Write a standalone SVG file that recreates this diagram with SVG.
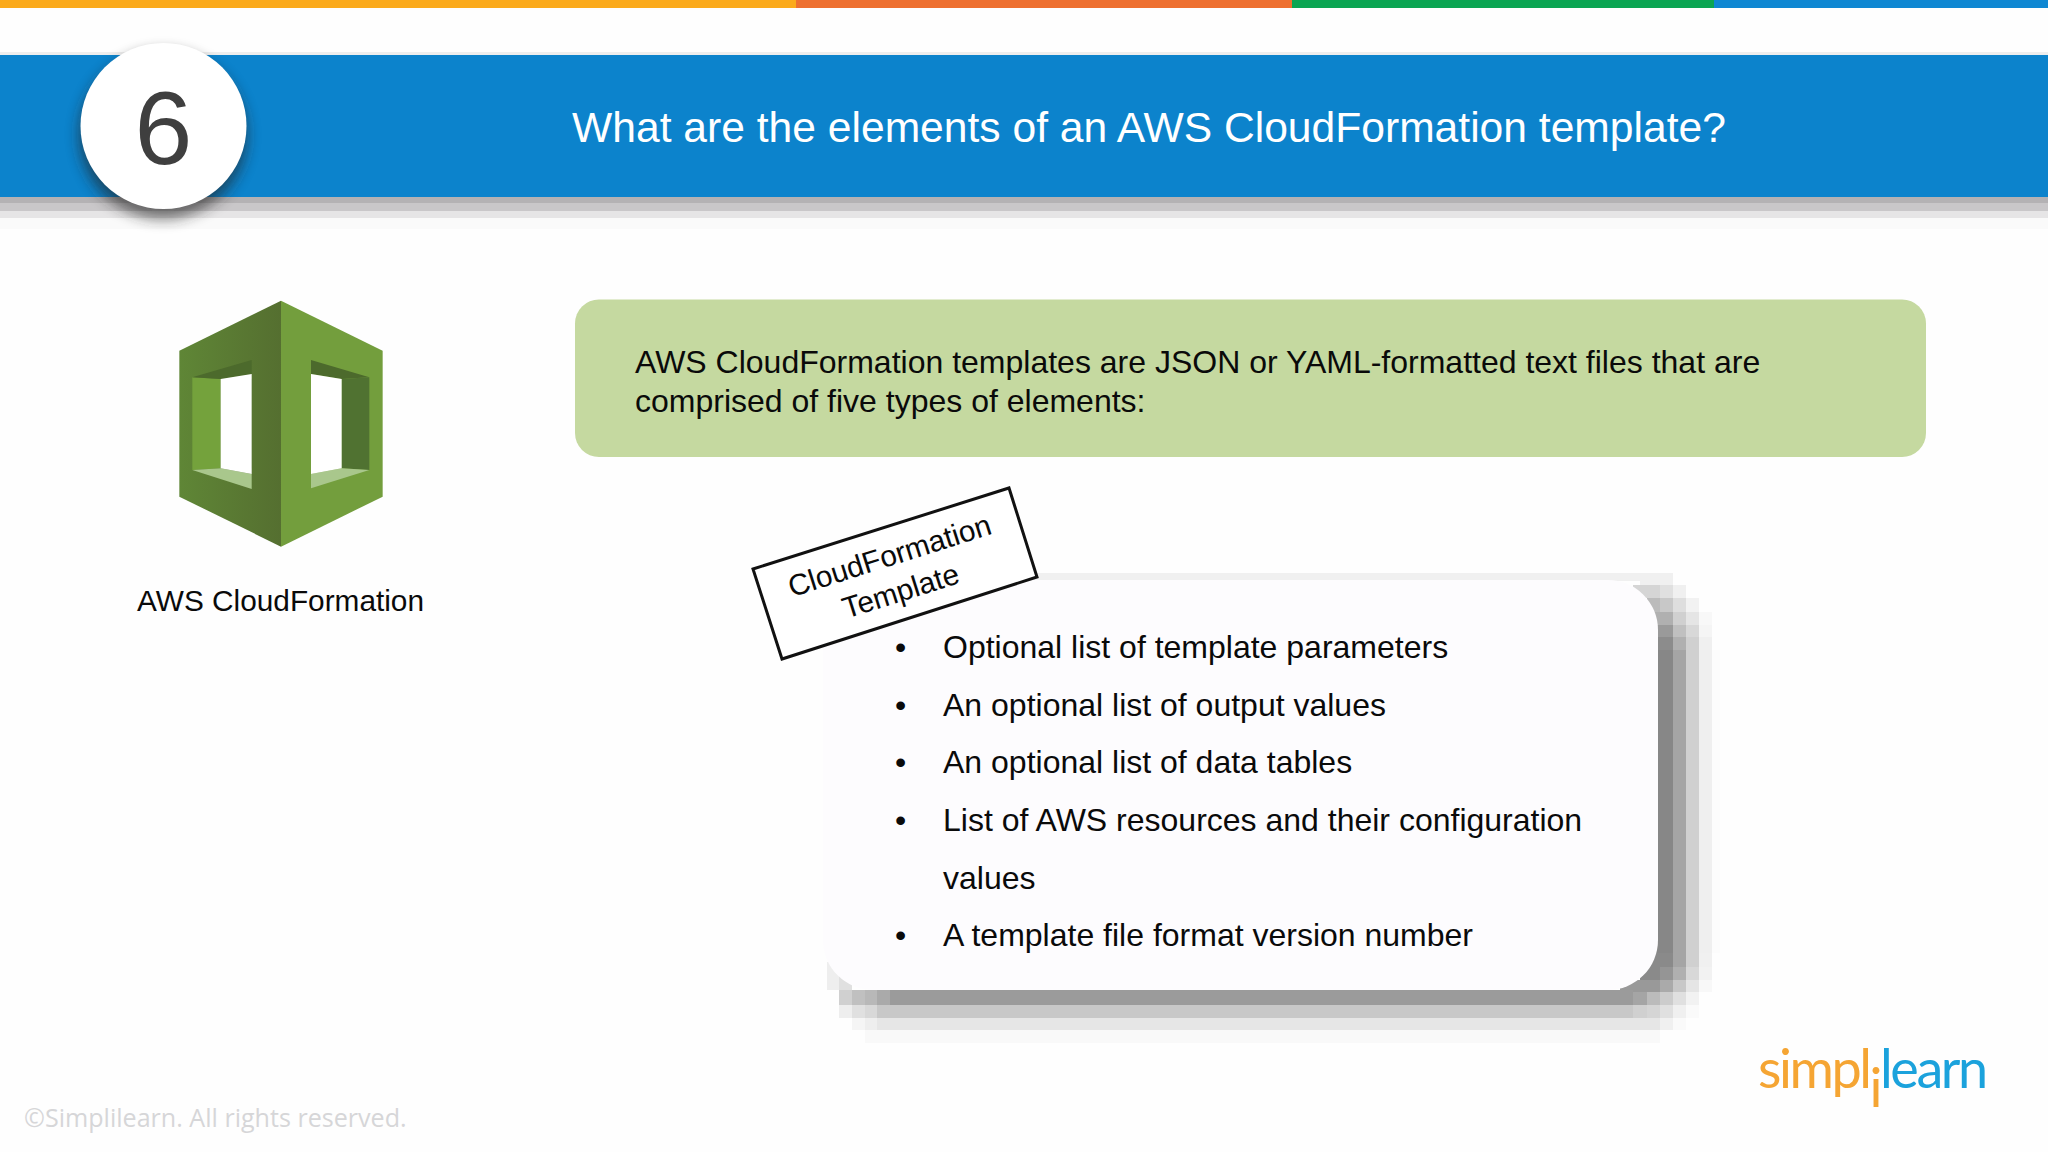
<svg xmlns="http://www.w3.org/2000/svg" width="2048" height="1152" viewBox="0 0 2048 1152">
<style>
text{font-family:"Liberation Sans",Arial,sans-serif;fill:#0a0a0a}
.body{font-size:32px}
.c{text-anchor:middle}
</style>
<defs>
<filter id="blur" x="-30%" y="-30%" width="160%" height="160%"><feGaussianBlur stdDeviation="7"/></filter>
<linearGradient id="lf" x1="0" x2="1" y1="0" y2="0"><stop offset="0" stop-color="#5f8636"/><stop offset="1" stop-color="#556f30"/></linearGradient>
</defs>
<rect width="2048" height="1152" fill="#fefefe"/>
<g id="topbar">
<rect x="0" y="0" width="796" height="8" fill="#fbaa1b"/>
<rect x="796" y="0" width="496" height="8" fill="#ee7030"/>
<rect x="1292" y="0" width="422" height="8" fill="#0ba552"/>
<rect x="1714" y="0" width="334" height="8" fill="#0f87d2"/>
</g>
<g id="header">
<rect x="0" y="52" width="2048" height="3" fill="#eeeeee"/>
<rect x="0" y="197" width="2048" height="6" fill="#b4b2b4"/>
<rect x="0" y="203" width="2048" height="8" fill="#c9c7c9"/>
<rect x="0" y="211" width="2048" height="7" fill="#e6e5e6"/>
<rect x="0" y="218" width="2048" height="11" fill="#fafafa"/>
<rect x="0" y="55" width="2048" height="142" fill="#0c83cc"/>
<text x="1149" y="142" class="c" font-size="42.600" style="fill:#fff">What are the elements of an AWS CloudFormation template?</text>
</g>
<g id="badge">
<circle cx="163" cy="135" r="84" fill="#222" opacity=".6" filter="url(#blur)"/>
<circle cx="163.500" cy="126" r="83" fill="#fff"/>
<text x="163.500" y="164" class="c" font-size="104" style="fill:#3f3f3f">6</text>
</g>
<g id="aws-icon">
<g transform="translate(150 280) scale(.33333)">
<polygon points="393,62 88,212 88,650 393,800" fill="url(#lf)"/>
<polygon points="393,62 698,212 698,650 393,800" fill="#739e3d"/>
<polygon points="127,292 212,297 212,565 127,570" fill="#74a23c"/>
<polygon points="127,292 305,240 305,282 212,297" fill="#4c6a2c"/>
<polygon points="127,570 212,565 305,582 305,627" fill="#a9c78c"/>
<polygon points="212,297 305,282 305,582 212,565" fill="#fff"/>
<polygon points="483,240 658,292 575,297 483,282" fill="#4c6a2c"/>
<polygon points="658,292 658,570 575,565 575,297" fill="#507231"/>
<polygon points="483,625 658,570 575,565 483,582" fill="#a9c78c"/>
<polygon points="483,282 575,297 575,565 483,582" fill="#fff"/>
</g>
<text x="280.500" y="611" class="c" font-size="29.800">AWS CloudFormation</text>
</g>
<g id="intro">
<rect x="575" y="299.500" width="1351" height="157.500" rx="24" fill="#c5d9a0"/>
<text x="635" y="373" class="body">AWS CloudFormation templates are JSON or YAML-formatted text files that are</text>
<text x="635" y="412" class="body">comprised of five types of elements:</text>
</g>
<g id="card">
<g id="card-shadow">
<rect x="855" y="573" width="805" height="8" fill="#f0f0f0"/>
<rect x="1640" y="573" width="33" height="12" fill="#f0f0f0"/>
<rect x="1633" y="585" width="27" height="13" fill="#d5d5d5"/><rect x="1660" y="585" width="13" height="13" fill="#e0e0e0"/><rect x="1673" y="585" width="13" height="13" fill="#f0f0f0"/>
<rect x="1647" y="598" width="13" height="14" fill="#bbbbbb"/><rect x="1660" y="598" width="13" height="14" fill="#c8c8c8"/><rect x="1673" y="598" width="13" height="14" fill="#dedede"/><rect x="1686" y="598" width="13" height="14" fill="#f2f2f2"/>
<rect x="1650" y="612" width="23" height="13" fill="#b0b0b0"/><rect x="1673" y="612" width="13" height="13" fill="#d0d0d0"/><rect x="1686" y="612" width="13" height="13" fill="#e5e5e5"/><rect x="1699" y="612" width="13" height="13" fill="#f8f8f8"/>
<rect x="1650" y="625" width="23" height="12" fill="#9a9a9a"/><rect x="1673" y="625" width="13" height="12" fill="#c0c0c0"/><rect x="1686" y="625" width="13" height="12" fill="#d8d8d8"/><rect x="1699" y="625" width="13" height="12" fill="#f5f5f5"/>
<rect x="1650" y="637" width="23" height="13" fill="#8c8c8c"/><rect x="1673" y="637" width="13" height="13" fill="#b0b0b0"/><rect x="1686" y="637" width="13" height="13" fill="#d0d0d0"/><rect x="1699" y="637" width="13" height="13" fill="#f0f0f0"/>
<rect x="1650" y="650" width="23" height="303" fill="#878787"/><rect x="1673" y="650" width="13" height="303" fill="#a5a5a5"/><rect x="1686" y="650" width="13" height="303" fill="#d0d0d0"/><rect x="1699" y="650" width="13" height="303" fill="#efefef"/><rect x="1712" y="650" width="8" height="303" fill="#fcfcfc"/>
<rect x="1650" y="953" width="23" height="14" fill="#8a8a8a"/><rect x="1673" y="953" width="13" height="14" fill="#a5a5a5"/><rect x="1686" y="953" width="13" height="14" fill="#d0d0d0"/><rect x="1699" y="953" width="13" height="14" fill="#f0f0f0"/>
<rect x="1640" y="967" width="20" height="13" fill="#8a8a8a"/><rect x="1660" y="967" width="13" height="13" fill="#959595"/><rect x="1673" y="967" width="13" height="13" fill="#b0b0b0"/><rect x="1686" y="967" width="13" height="13" fill="#d8d8d8"/><rect x="1699" y="967" width="13" height="13" fill="#f2f2f2"/>
<rect x="1620" y="980" width="27" height="12" fill="#999999"/><rect x="1647" y="980" width="13" height="12" fill="#999999"/><rect x="1660" y="980" width="13" height="12" fill="#aaaaaa"/><rect x="1673" y="980" width="13" height="12" fill="#c8c8c8"/><rect x="1686" y="980" width="13" height="12" fill="#e5e5e5"/><rect x="1699" y="980" width="13" height="12" fill="#f8f8f8"/>
<rect x="890" y="990" width="743" height="15" fill="#9b9b9b"/><rect x="1633" y="992" width="14" height="13" fill="#a5a5a5"/><rect x="1647" y="992" width="13" height="13" fill="#bbbbbb"/><rect x="1660" y="992" width="13" height="13" fill="#cccccc"/><rect x="1673" y="992" width="13" height="13" fill="#e0e0e0"/><rect x="1686" y="992" width="13" height="13" fill="#f2f2f2"/>
<rect x="877" y="1005" width="756" height="13" fill="#c8c8c8"/><rect x="1633" y="1005" width="14" height="13" fill="#d0d0d0"/><rect x="1647" y="1005" width="13" height="13" fill="#d5d5d5"/><rect x="1660" y="1005" width="13" height="13" fill="#e0e0e0"/><rect x="1673" y="1005" width="13" height="13" fill="#f0f0f0"/><rect x="1686" y="1005" width="13" height="13" fill="#fafafa"/>
<rect x="877" y="1018" width="783" height="12" fill="#e6e6e6"/><rect x="1660" y="1018" width="13" height="12" fill="#f0f0f0"/><rect x="1673" y="1018" width="13" height="12" fill="#fafafa"/>
<rect x="865" y="1030" width="795" height="13" fill="#f9f9f9"/>
<rect x="877" y="990" width="13" height="15" fill="#aaaaaa"/><rect x="865" y="990" width="12" height="15" fill="#b8b8b8"/><rect x="852" y="990" width="13" height="15" fill="#c0c0c0"/><rect x="839" y="990" width="13" height="15" fill="#d0d0d0"/>
<rect x="865" y="1005" width="12" height="13" fill="#d8d8d8"/><rect x="852" y="1005" width="13" height="13" fill="#e0e0e0"/><rect x="839" y="1005" width="13" height="13" fill="#eeeeee"/>
<rect x="865" y="1018" width="12" height="12" fill="#eeeeee"/><rect x="852" y="1018" width="13" height="12" fill="#f5f5f5"/>
<rect x="827" y="962" width="12" height="28" fill="#eeeeee"/><rect x="839" y="975" width="13" height="15" fill="#e0e0e0"/>
</g>
<rect x="823" y="580" width="835" height="410" rx="50" fill="#fdfcfe"/>
<text x="895" y="658" class="body">•</text><text x="943" y="658" class="body">Optional list of template parameters</text>
<text x="895" y="716" class="body">•</text><text x="943" y="716" class="body">An optional list of output values</text>
<text x="895" y="773" class="body">•</text><text x="943" y="773" class="body">An optional list of data tables</text>
<text x="895" y="831" class="body">•</text><text x="943" y="831" class="body">List of AWS resources and their configuration</text>
<text x="943" y="889" class="body">values</text>
<text x="895" y="946" class="body">•</text><text x="943" y="946" class="body">A template file format version number</text>
</g>
<g id="label">
<polygon points="753,569 1009,488 1037,577 782,659" fill="#fff" stroke="#111" stroke-width="3"/>
<g transform="rotate(-17.600 895 573)">
<text x="895" y="565" class="c" font-size="29.700">CloudFormation</text>
<text x="895" y="602" class="c" font-size="29.700">Template</text>
</g>
</g>
<g id="logo">
<text x="1758" y="1088" font-size="54" letter-spacing="-2.450" style="font-family:Lato,sans-serif;font-weight:400;fill:#f5a533">simpl<tspan dy="19">i</tspan><tspan dy="-19" style="fill:#1ba2dc">learn</tspan></text>
</g>
<g id="footer">
<text x="24" y="1127" font-size="25.100" style="font-family:'Open Sans',sans-serif;fill:#d6d6d8">©Simplilearn. All rights reserved.</text>
</g>
<g id="connectors"></g>
</svg>
